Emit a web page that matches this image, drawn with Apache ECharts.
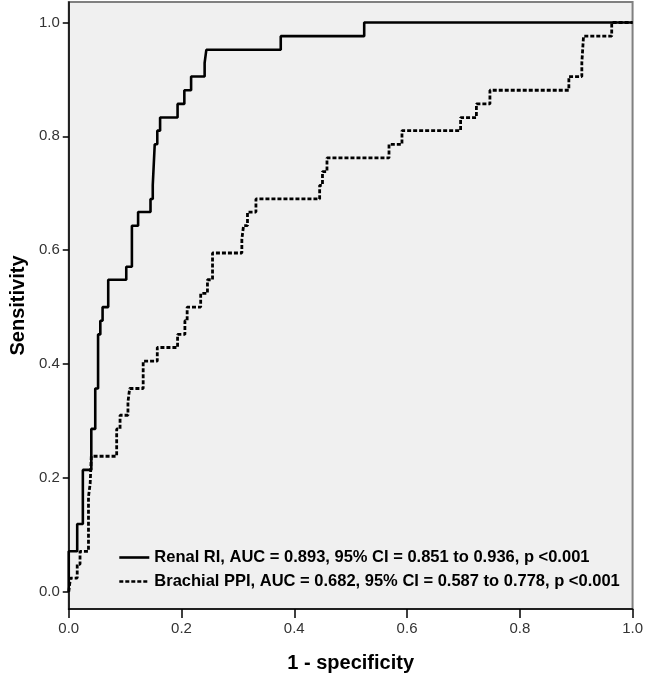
<!DOCTYPE html>
<html>
<head>
<meta charset="utf-8">
<script src="https://cdn.jsdelivr.net/npm/echarts@6/dist/echarts.min.js"></script>
<style>
html,body{margin:0;padding:0;background:#fff;}
#chart{width:646px;height:678px;}
</style>
</head>
<body>
<div id="chart"></div>
<script>
// ---- data ----
const seriesNames = [
  'Renal RI, AUC = 0.893, 95% CI = 0.851 to 0.936, p <0.001',
  'Brachial PPI, AUC = 0.682, 95% CI = 0.587 to 0.778, p <0.001'
];
const tickValues = [0, 0.2, 0.4, 0.6, 0.8, 1.0];
const xAxisTitle = '1 - specificity';
const yAxisTitle = 'Sensitivity';

// [1 - specificity, sensitivity]
const renalPoints = [
  [0,0],[0,0.071],[0.015,0.071],[0.015,0.119],[0.025,0.119],[0.025,0.214],
  [0.04,0.214],[0.04,0.286],[0.047,0.286],[0.047,0.357],[0.052,0.357],[0.052,0.452],
  [0.056,0.452],[0.056,0.476],[0.06,0.476],[0.06,0.5],[0.07,0.5],[0.07,0.548],
  [0.102,0.548],[0.102,0.571],[0.112,0.571],[0.112,0.643],[0.123,0.643],[0.123,0.667],
  [0.145,0.667],[0.145,0.69],[0.149,0.69],[0.149,0.714],[0.1525,0.714],[0.1525,0.786],
  [0.157,0.786],[0.157,0.81],[0.162,0.81],[0.162,0.833],[0.193,0.833],[0.193,0.857],
  [0.205,0.857],[0.205,0.881],[0.217,0.881],[0.217,0.905],[0.241,0.905],[0.241,0.929],
  [0.244,0.929],[0.244,0.952],[0.376,0.952],[0.376,0.976],[0.524,0.976],[0.524,1],[1,1]
];
const brachialPoints = [
  [0,0],[0.003,0.024],[0.015,0.024],[0.015,0.048],[0.02,0.048],[0.02,0.071],
  [0.035,0.071],[0.035,0.167],[0.038,0.167],[0.038,0.19],[0.04,0.19],[0.04,0.238],
  [0.085,0.238],[0.085,0.286],[0.091,0.286],[0.091,0.31],[0.105,0.31],[0.105,0.333],
  [0.108,0.333],[0.108,0.357],[0.132,0.357],[0.132,0.405],[0.157,0.405],[0.157,0.429],
  [0.193,0.429],[0.193,0.452],[0.206,0.452],[0.206,0.476],[0.21,0.476],[0.21,0.5],
  [0.234,0.5],[0.234,0.524],[0.246,0.524],[0.246,0.548],[0.255,0.548],[0.255,0.595],
  [0.307,0.595],[0.307,0.619],[0.31,0.619],[0.31,0.643],[0.317,0.643],[0.317,0.667],
  [0.332,0.667],[0.332,0.69],[0.445,0.69],[0.445,0.714],[0.45,0.714],[0.45,0.738],
  [0.458,0.738],[0.458,0.762],[0.568,0.762],[0.568,0.786],[0.591,0.786],[0.591,0.81],
  [0.695,0.81],[0.695,0.833],[0.723,0.833],[0.723,0.857],[0.747,0.857],[0.747,0.881],
  [0.887,0.881],[0.887,0.905],[0.91,0.905],[0.91,0.929],[0.913,0.929],[0.913,0.976],
  [0.963,0.976],[0.963,1],[1,1]
];

const FONT = 'Liberation Sans, Arial, sans-serif';
const chart = echarts.init(document.getElementById('chart'), null, {renderer: 'canvas'});
chart.setOption({
  animation: false,
  backgroundColor: '#ffffff',
  grid: {
    left: 67, right: 10, top: 2, bottom: 69,
    show: true, backgroundColor: '#f0f0f0', borderColor: '#808080', borderWidth: 2
  },
  legend: {
    orient: 'vertical', left: 118, top: 549, padding: 0,
    itemWidth: 30, itemHeight: 14, itemGap: 7,
    itemStyle: {color: 'rgba(0,0,0,0)', borderWidth: 0, opacity: 0},
    lineStyle: {width: 2.6},
    data: seriesNames,
    textStyle: {fontFamily: FONT, fontSize: 16.5, fontWeight: 'bold', color: '#000'}
  },
  xAxis: {
    type: 'value', min: 0, max: 1,
    axisLine: {show: true, onZero: false, lineStyle: {color: '#000', width: 1.5}},
    axisTick: {show: true, length: 9, lineStyle: {color: '#000', width: 1.5}, customValues: tickValues},
    axisLabel: {customValues: tickValues, formatter: v => v.toFixed(1), margin: 12,
      fontFamily: FONT, fontSize: 15, color: '#333'},
    splitLine: {show: false},
    name: xAxisTitle, nameLocation: 'middle', nameGap: 44,
    nameTextStyle: {fontFamily: FONT, fontSize: 20, fontWeight: 'bold', color: '#000'}
  },
  yAxis: {
    type: 'value', min: -0.0304, max: 1.036,
    axisLine: {show: true, onZero: false, lineStyle: {color: '#000', width: 1.5}},
    axisTick: {show: true, length: 6, lineStyle: {color: '#000', width: 1.5}, customValues: tickValues},
    axisLabel: {customValues: tickValues, formatter: v => v.toFixed(1), margin: 9,
      fontFamily: FONT, fontSize: 15, color: '#333'},
    splitLine: {show: false},
    name: yAxisTitle, nameLocation: 'middle', nameGap: 40, nameRotate: 90,
    nameTextStyle: {fontFamily: FONT, fontSize: 20, fontWeight: 'bold', color: '#000'}
  },
  series: [
    {
      name: seriesNames[0], type: 'line', data: renalPoints, symbol: 'none',
      lineStyle: {color: '#000', width: 2.6, type: 'solid'},
      itemStyle: {color: 'rgba(0,0,0,0)'}, z: 3
    },
    {
      name: seriesNames[1], type: 'line', data: brachialPoints, symbol: 'none',
      lineStyle: {color: '#000', width: 2.8, type: [4, 2]},
      itemStyle: {color: 'rgba(0,0,0,0)'}, z: 2
    }
  ]
});
</script>
</body>
</html>
